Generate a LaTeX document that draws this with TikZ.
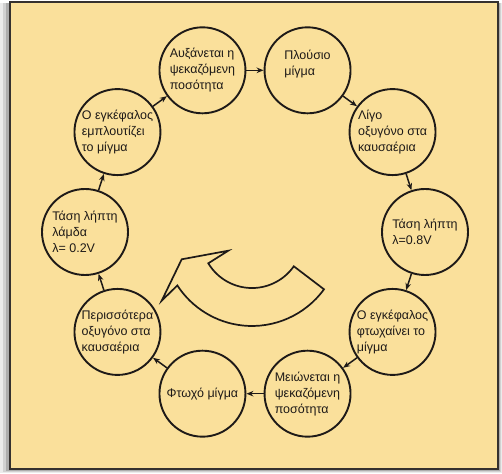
\documentclass[tikz,border=0pt]{standalone}
\usepackage{fontspec}
\setmainfont{Liberation Sans}
\usetikzlibrary{arrows.meta}
\definecolor{paper}{RGB}{250,224,155}
\definecolor{ink}{RGB}{30,26,24}
\tikzset{
  stage/.style={circle, draw=ink, line width=1.9pt, minimum size=86pt, inner sep=0pt},
  txt/.style={align=left, text=ink, font=\fontsize{12.5}{16}\selectfont, inner sep=0pt},
  conn/.style={draw=ink, line width=1.5pt, -{Stealth[length=7pt, width=5.5pt]}},
}
\begin{document}
\begin{tikzpicture}[x=1pt, y=1pt]
  \useasboundingbox (-255,-241) rectangle (247,232);
  % shadow and panel
  \fill[black!8] (-255,-241) rectangle (247,229);
  \fill[black!18] (-252,-240) rectangle (246,229);
  \fill[black!32] (-249,-239) rectangle (245,229);
  \fill[paper, draw=ink!90, line width=1.2pt] (-245,-237) rectangle (243,230);

  % the ten stages round the ring
  \node[stage] (s1) at (108:170) {};
  \node[stage] (s2) at (72:170) {};
  \node[stage] (s3) at (36:170) {};
  \node[stage] (s4) at (0:170) {};
  \node[stage] (s5) at (-36:170) {};
  \node[stage] (s6) at (-72:170) {};
  \node[stage] (s7) at (-108:170) {};
  \node[stage] (s8) at (-144:170) {};
  \node[stage] (s9) at (180:170) {};
  \node[stage] (s10) at (144:170) {};

  \node[txt] (t1) at (s1) {Αυξάνεται η\\ψεκαζόμενη\\ποσότητα};
  \node[txt, yshift=6pt] (t2) at (s2) {Πλούσιο\\μίγμα};
  \node[txt] (t3) at (s3) {Λίγο\\οξυγόνο στα\\καυσαέρια};
  \node[txt] (t4) at (s4) {Τάση λήπτη\\λ=0.8V};
  \node[txt] (t5) at (s5) {Ο εγκέφαλος\\φτωχαίνει το\\μίγμα};
  \node[txt] (t6) at (s6) {Μειώνεται η\\ψεκαζόμενη\\ποσότητα};
  \node[txt] (t7) at (s7) {Φτωχό μίγμα};
  \node[txt] (t8) at (s8) {Περισσότερα\\οξυγόνο στα\\καυσαέρια};
  \node[txt] (t9) at (s9) {Τάση λήπτη\\λάμδα\\λ= 0.2V};
  \node[txt] (t10) at (s10) {Ο εγκέφαλος\\εμπλουτίζει\\το μίγμα};

  \draw[conn] (s1) -- (s2);
  \draw[conn] (s2) -- (s3);
  \draw[conn] (s3) -- (s4);
  \draw[conn] (s4) -- (s5);
  \draw[conn] (s5) -- (s6);
  \draw[conn] (s6) -- (s7);
  \draw[conn] (s7) -- (s8);
  \draw[conn] (s8) -- (s9);
  \draw[conn] (s9) -- (s10);
  \draw[conn] (s10) -- (s1);

  % big curved arrow in the middle
  \draw[ink, line width=1.7pt, line join=miter] (-73.3,-27.3) -- (-26.7,-18.7) -- (-46.7,-31.3)
    arc[start angle=211, end angle=325, radius=51] -- (69.0,-57.3)
    arc[start angle=324, end angle=213, radius=89] -- (-93.3,-68.7) -- cycle;
\end{tikzpicture}
\end{document}
